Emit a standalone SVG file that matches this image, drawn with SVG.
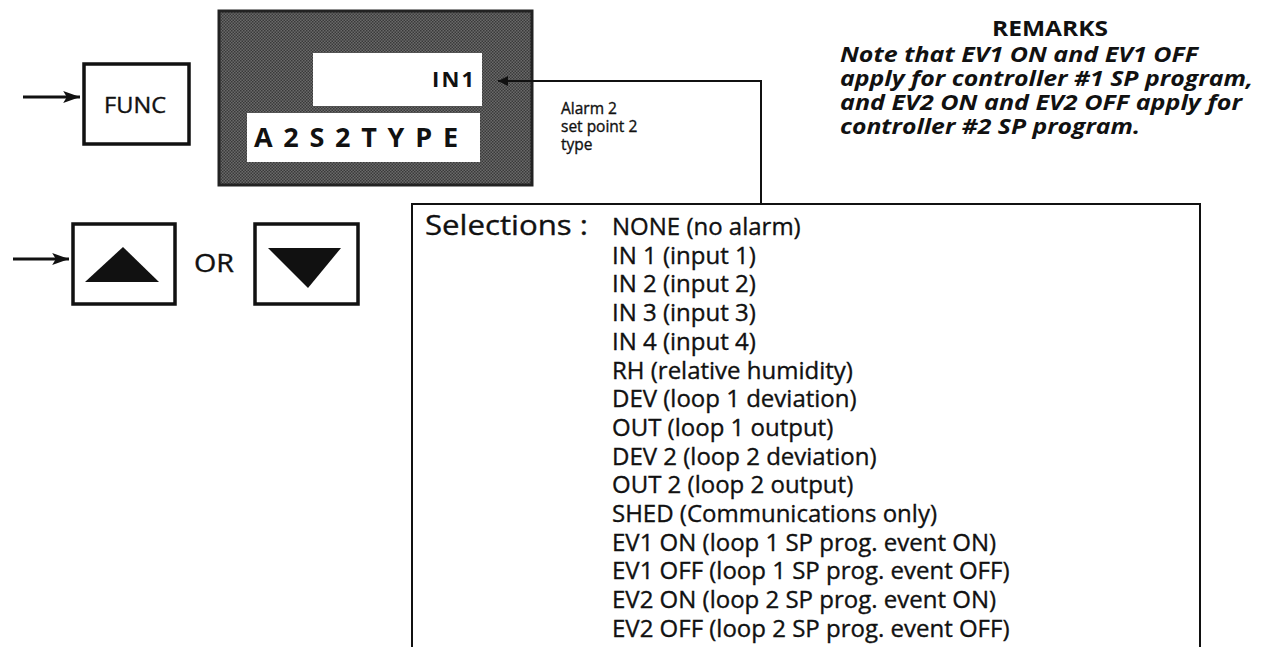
<svg xmlns="http://www.w3.org/2000/svg" width="1267" height="647" viewBox="0 0 1267 647">
<style>
  .t { font-family: "Open Sans", "Liberation Sans", sans-serif; fill: #111; }
  .w { stroke: #111; stroke-width: 0.35; }
  .btn { fill: #fff; stroke: #111; stroke-width: 3.5; }
  .line { fill: none; stroke: #111; stroke-width: 2; }
  .item { font-size: 24px; }
  .rem { font-size: 21px; font-weight: 700; font-style: italic; }
  .lcd { font-weight: 700; }
</style>
<defs>
  <marker id="arr" viewBox="0 0 10 10" refX="10" refY="5" markerWidth="10" markerHeight="10" markerUnits="userSpaceOnUse" orient="auto">
    <path d="M0,0 L10,5 L0,10 z" fill="#111"/>
  </marker>
  <marker id="inarr" viewBox="0 0 14 10" refX="14" refY="5" markerWidth="18" markerHeight="12" markerUnits="userSpaceOnUse" orient="auto">
    <path d="M0,0 L14,5 L0,10 L3,5 z" fill="#111"/>
  </marker>
  <pattern id="stip" width="3" height="3" patternUnits="userSpaceOnUse">
    <rect width="3" height="3" fill="#6a6a6a"/>
    <rect width="1.5" height="1.5" fill="#3a3a3a"/>
    <rect x="1.5" y="1.5" width="1.5" height="1.5" fill="#3a3a3a"/>
  </pattern>
</defs>

<g id="func-arrow">
  <line x1="23" y1="97" x2="80" y2="97" stroke="#111" stroke-width="3" marker-end="url(#inarr)"/>
</g>
<g id="func">
  <rect class="btn" x="84" y="64" width="105" height="80"/>
  <text class="t w" x="104" y="113" font-size="21" textLength="62" lengthAdjust="spacingAndGlyphs">FUNC</text>
</g>

<g id="display">
  <rect x="219" y="11" width="313" height="174" fill="url(#stip)" stroke="#222" stroke-width="3"/>
  <rect x="313" y="53" width="169" height="53" fill="#fff"/>
  <rect x="247" y="113" width="233" height="49" fill="#fff"/>
  <text class="t lcd" x="432" y="87" font-size="22" textLength="42" lengthAdjust="spacing">IN1</text>
  <text class="t lcd" x="254" y="147" font-size="27" textLength="204" lengthAdjust="spacing">A2S2TYPE</text>
</g>

<g id="label">
  <text class="t w" x="561" y="114" font-size="15.5">Alarm 2</text>
  <text class="t w" x="561" y="132" font-size="15.5">set point 2</text>
  <text class="t w" x="561" y="150" font-size="15.5">type</text>
</g>

<g id="updown-arrow">
  <line x1="13" y1="259" x2="69" y2="259" stroke="#111" stroke-width="3" marker-end="url(#inarr)"/>
</g>
<g id="up">
  <rect class="btn" x="73" y="224" width="102" height="80"/>
  <polygon points="85,282 159,282 123,247" fill="#111"/>
</g>
<g id="or">
  <text class="t w" x="194" y="272" font-size="25" textLength="40" lengthAdjust="spacingAndGlyphs">OR</text>
</g>
<g id="down">
  <rect class="btn" x="255" y="224" width="103" height="80"/>
  <polygon points="268,248 341,248 308,288" fill="#111"/>
</g>

<g id="connectors">
  <polyline class="line" points="761,204 761,81 498,81" marker-end="url(#arr)"/>
</g>

<g id="selections">
  <path class="line" d="M412,647 L412,204 L1200,204 L1200,647"/>
  <text class="t w" x="425" y="235" font-size="28" textLength="163" lengthAdjust="spacingAndGlyphs">Selections :</text>
  <g class="t w item">
    <text x="612" y="235">NONE (no alarm)</text>
    <text x="612" y="263.7">IN 1 (input 1)</text>
    <text x="612" y="292.4">IN 2 (input 2)</text>
    <text x="612" y="321.1">IN 3 (input 3)</text>
    <text x="612" y="349.8">IN 4 (input 4)</text>
    <text x="612" y="378.5">RH (relative humidity)</text>
    <text x="612" y="407.2">DEV (loop 1 deviation)</text>
    <text x="612" y="435.9">OUT (loop 1 output)</text>
    <text x="612" y="464.6">DEV 2 (loop 2 deviation)</text>
    <text x="612" y="493.3">OUT 2 (loop 2 output)</text>
    <text x="612" y="522">SHED (Communications only)</text>
    <text x="612" y="550.7">EV1 ON (loop 1 SP prog. event ON)</text>
    <text x="612" y="579.4">EV1 OFF (loop 1 SP prog. event OFF)</text>
    <text x="612" y="608.1">EV2 ON (loop 2 SP prog. event ON)</text>
    <text x="612" y="636.8">EV2 OFF (loop 2 SP prog. event OFF)</text>
  </g>
</g>

<g id="remarks">
  <text class="t" x="1050" y="36" font-size="22" font-weight="700" text-anchor="middle" textLength="116" lengthAdjust="spacingAndGlyphs">REMARKS</text>
  <text class="t rem" x="840" y="62" textLength="358" lengthAdjust="spacingAndGlyphs">Note that EV1 ON and EV1 OFF</text>
  <text class="t rem" x="840" y="86" textLength="413" lengthAdjust="spacingAndGlyphs">apply for controller #1 SP program,</text>
  <text class="t rem" x="840" y="110" textLength="402" lengthAdjust="spacingAndGlyphs">and EV2 ON and EV2 OFF apply for</text>
  <text class="t rem" x="840" y="134" textLength="300" lengthAdjust="spacingAndGlyphs">controller #2 SP program.</text>
</g>
</svg>
